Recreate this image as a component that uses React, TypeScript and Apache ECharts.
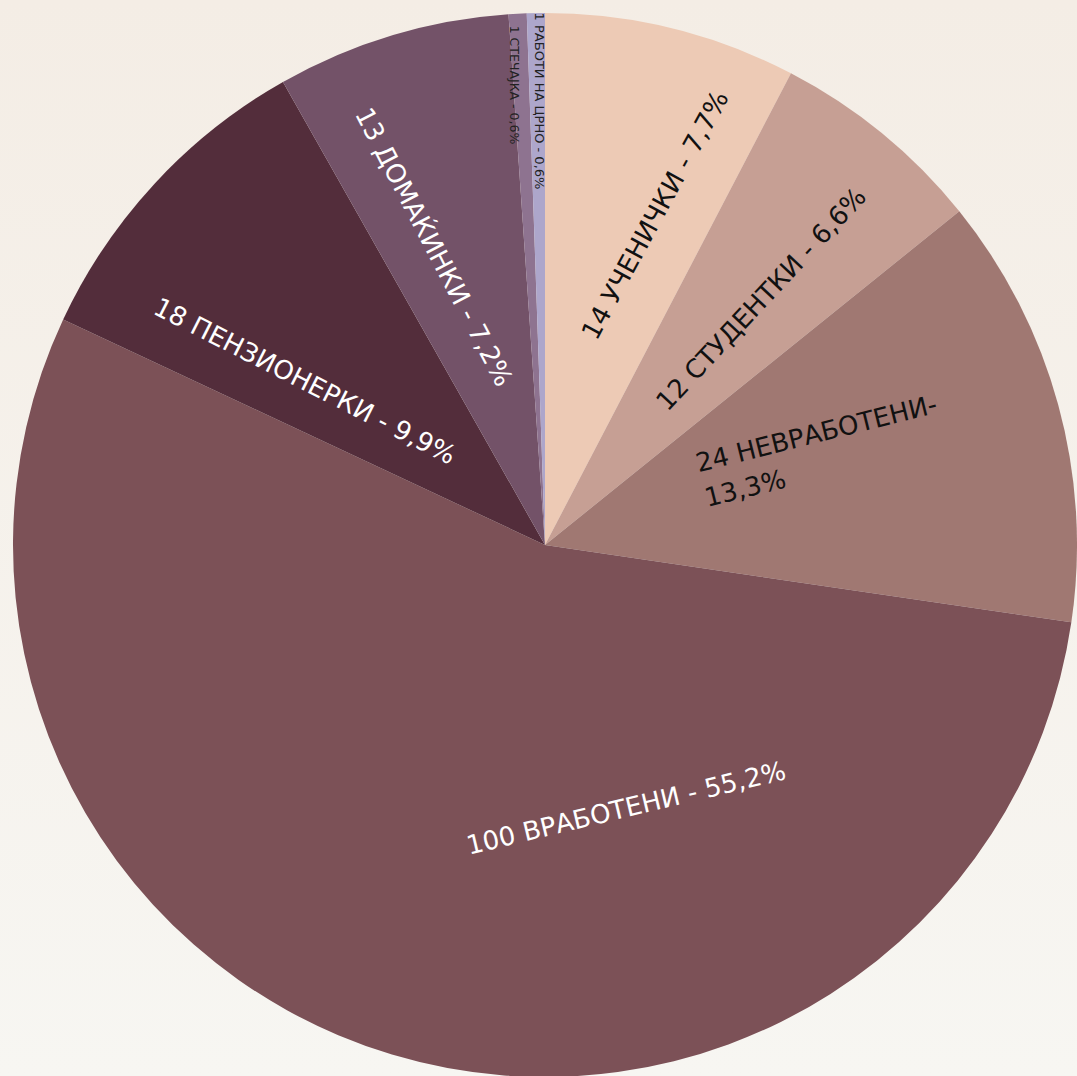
import React, { useEffect, useRef } from "react";
import * as echarts from "echarts";

const categories = [
  "УЧЕНИЧКИ",
  "СТУДЕНТКИ",
  "НЕВРАБОТЕНИ",
  "ВРАБОТЕНИ",
  "ПЕНЗИОНЕРКИ",
  "ДОМАЌИНКИ",
  "СТЕЧАЈКА",
  "РАБОТИ НА ЦРНО",
];
const counts = [14, 12, 24, 100, 18, 13, 1, 1];
const percentLabels = ["7,7%", "6,6%", "13,3%", "55,2%", "9,9%", "7,2%", "0,6%", "0,6%"];

const palette = [
  "#edcab5",
  "#c69f94",
  "#a07872",
  "#7c5157",
  "#532d3b",
  "#735268",
  "#8e7390",
  "#ada6cb",
];

// label layout: [x, y, rotationDeg, fontSize, color, align]
const labelLayout: [number, number, number, number, string, string][] = [
  [655, 215, 61.5, 26, "#111111", "center"],
  [761, 299, 47, 26, "#111111", "center"],
  [692, 446, 14, 26, "#111111", "left"],
  [626, 808, 13.4, 26, "#ffffff", "center"],
  [305, 381, -27, 26, "#ffffff", "center"],
  [434, 247, -62.5, 26, "#ffffff", "center"],
  [514, 85, -90, 12.5, "#222222", "center"],
  [539, 101, -90, 13, "#222222", "center"],
];

function labelText(i: number): string {
  if (i === 2) return `${counts[i]} ${categories[i]}-\n${percentLabels[i]}`;
  return `${counts[i]} ${categories[i]} - ${percentLabels[i]}`;
}

export default function App() {
  const ref = useRef<HTMLDivElement>(null);
  useEffect(() => {
    if (!ref.current) return;
    const chart = echarts.init(ref.current, null, { renderer: "svg" });
    const graphics = labelLayout.map((l, i) => ({
      type: "text",
      x: l[0],
      y: l[1],
      rotation: (l[2] * Math.PI) / 180,
      z: 100,
      style: {
        text: labelText(i),
        fill: l[4],
        fontSize: l[3],
        fontFamily: "'DejaVu Sans', sans-serif",
        fontWeight: 400,
        align: l[5],
        verticalAlign: l[5] === "left" ? "top" : "middle",
        lineHeight: 36,
      },
    }));
    chart.setOption({
      animation: false,
      backgroundColor: {
        type: "linear",
        x: 0,
        y: 0,
        x2: 0,
        y2: 1,
        colorStops: [
          { offset: 0, color: "#f4ede5" },
          { offset: 1, color: "#f7f6f2" },
        ],
      },
      series: [
        {
          type: "pie",
          center: [545, 545],
          radius: 532,
          startAngle: 90,
          clockwise: true,
          label: { show: false },
          labelLine: { show: false },
          itemStyle: { borderWidth: 0 },
          emphasis: { disabled: true },
          data: categories.map((c, i) => ({
            name: c,
            value: counts[i],
            itemStyle: { color: palette[i] },
          })),
        },
      ],
      graphic: graphics,
    });
    return () => chart.dispose();
  }, []);
  return (
    <div
      ref={ref}
      style={{ position: "absolute", left: 0, top: 0, width: 1077, height: 1076 }}
    />
  );
}
